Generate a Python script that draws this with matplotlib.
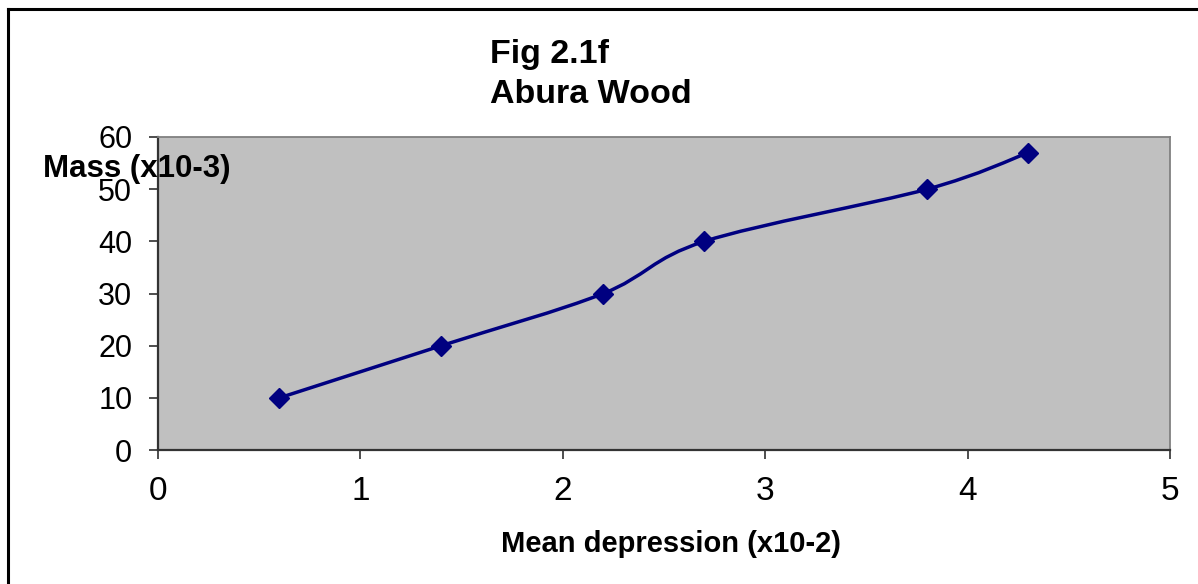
import numpy as np
import matplotlib
matplotlib.use("Agg")
import matplotlib.pyplot as plt
from matplotlib.path import Path
from matplotlib.patches import PathPatch
from matplotlib.lines import Line2D

plt.rcParams["font.family"] = ["Liberation Sans", "DejaVu Sans"]

# data
depression = [0.6, 1.4, 2.2, 2.7, 3.8, 4.3]   # mean depression (x10-2)
mass = [10, 20, 30, 40, 50, 57]              # mass (x10-3)
x_ticks = [0, 1, 2, 3, 4, 5]
y_ticks = [0, 10, 20, 30, 40, 50, 60]

NAVY = "#000080"
W, H = 1198, 584


def smooth_path(xs, ys):
    """Excel-style smoothed line: cubic Bezier segments with 1/6 tangents."""
    pts = np.column_stack([xs, ys]).astype(float)
    n = len(pts)
    verts = [pts[0]]
    codes = [Path.MOVETO]
    for i in range(n - 1):
        p0 = pts[max(i - 1, 0)]
        p1 = pts[i]
        p2 = pts[i + 1]
        p3 = pts[min(i + 2, n - 1)]
        c1 = p1 + (p2 - p0) / 6.0
        c2 = p2 - (p3 - p1) / 6.0
        verts += [c1, c2, p2]
        codes += [Path.CURVE4] * 3
    return Path(verts, codes)


fig = plt.figure(figsize=(W / 100, H / 100), dpi=100)
fig.patch.set_facecolor("white")

# plot area in pixel coords: left 158, right 1170, top 137, bottom 450
ax = fig.add_axes([158 / W, (H - 450) / H, (1170 - 158) / W, (450 - 137) / H])
ax.set_facecolor("#C0C0C0")

ax.add_patch(PathPatch(smooth_path(depression, mass), fill=False,
                       edgecolor=NAVY, lw=2.5, zorder=3,
                       transform=ax.transData))
ax.plot(depression, mass, ls="none", marker="D", ms=10,
        color=NAVY, zorder=4)

ax.set_xlim(0, 5)
ax.set_ylim(0, 60)
ax.set_xticks(x_ticks)
ax.set_yticks(y_ticks)
ax.tick_params(axis="x", labelsize=24, pad=12, length=6.5, width=1.3,
               color="#404040", direction="out")
ax.tick_params(axis="y", labelsize=22, pad=12, length=6.5, width=1.3,
               color="#404040", direction="out")

for side in ["left", "bottom"]:
    ax.spines[side].set_color("#333333")
    ax.spines[side].set_linewidth(1.6)
for side in ["top", "right"]:
    ax.spines[side].set_color("#808080")
    ax.spines[side].set_linewidth(1.3)

# titles and axis labels
fig.text(490 / W, (H - 63) / H, "Fig 2.1f", fontsize=24.5, fontweight="bold",
         ha="left", va="baseline")
fig.text(490 / W, (H - 103) / H, "Abura Wood", fontsize=24.5,
         fontweight="bold", ha="left", va="baseline")
fig.text(43 / W, (H - 177) / H, "Mass (x10-3)", fontsize=22.5,
         fontweight="bold", ha="left", va="baseline")
fig.text(671 / W, (H - 552) / H, "Mean depression (x10-2)", fontsize=21,
         fontweight="bold", ha="center", va="baseline")

# outer frame (top and left edges visible)
fig.add_artist(Line2D([8 / W, 1], [(H - 9) / H, (H - 9) / H],
                      color="black", lw=2.2, transform=fig.transFigure))
fig.add_artist(Line2D([8 / W, 8 / W], [0, (H - 9) / H],
                      color="black", lw=2.2, transform=fig.transFigure))

fig.savefig("out.png", dpi=100)
